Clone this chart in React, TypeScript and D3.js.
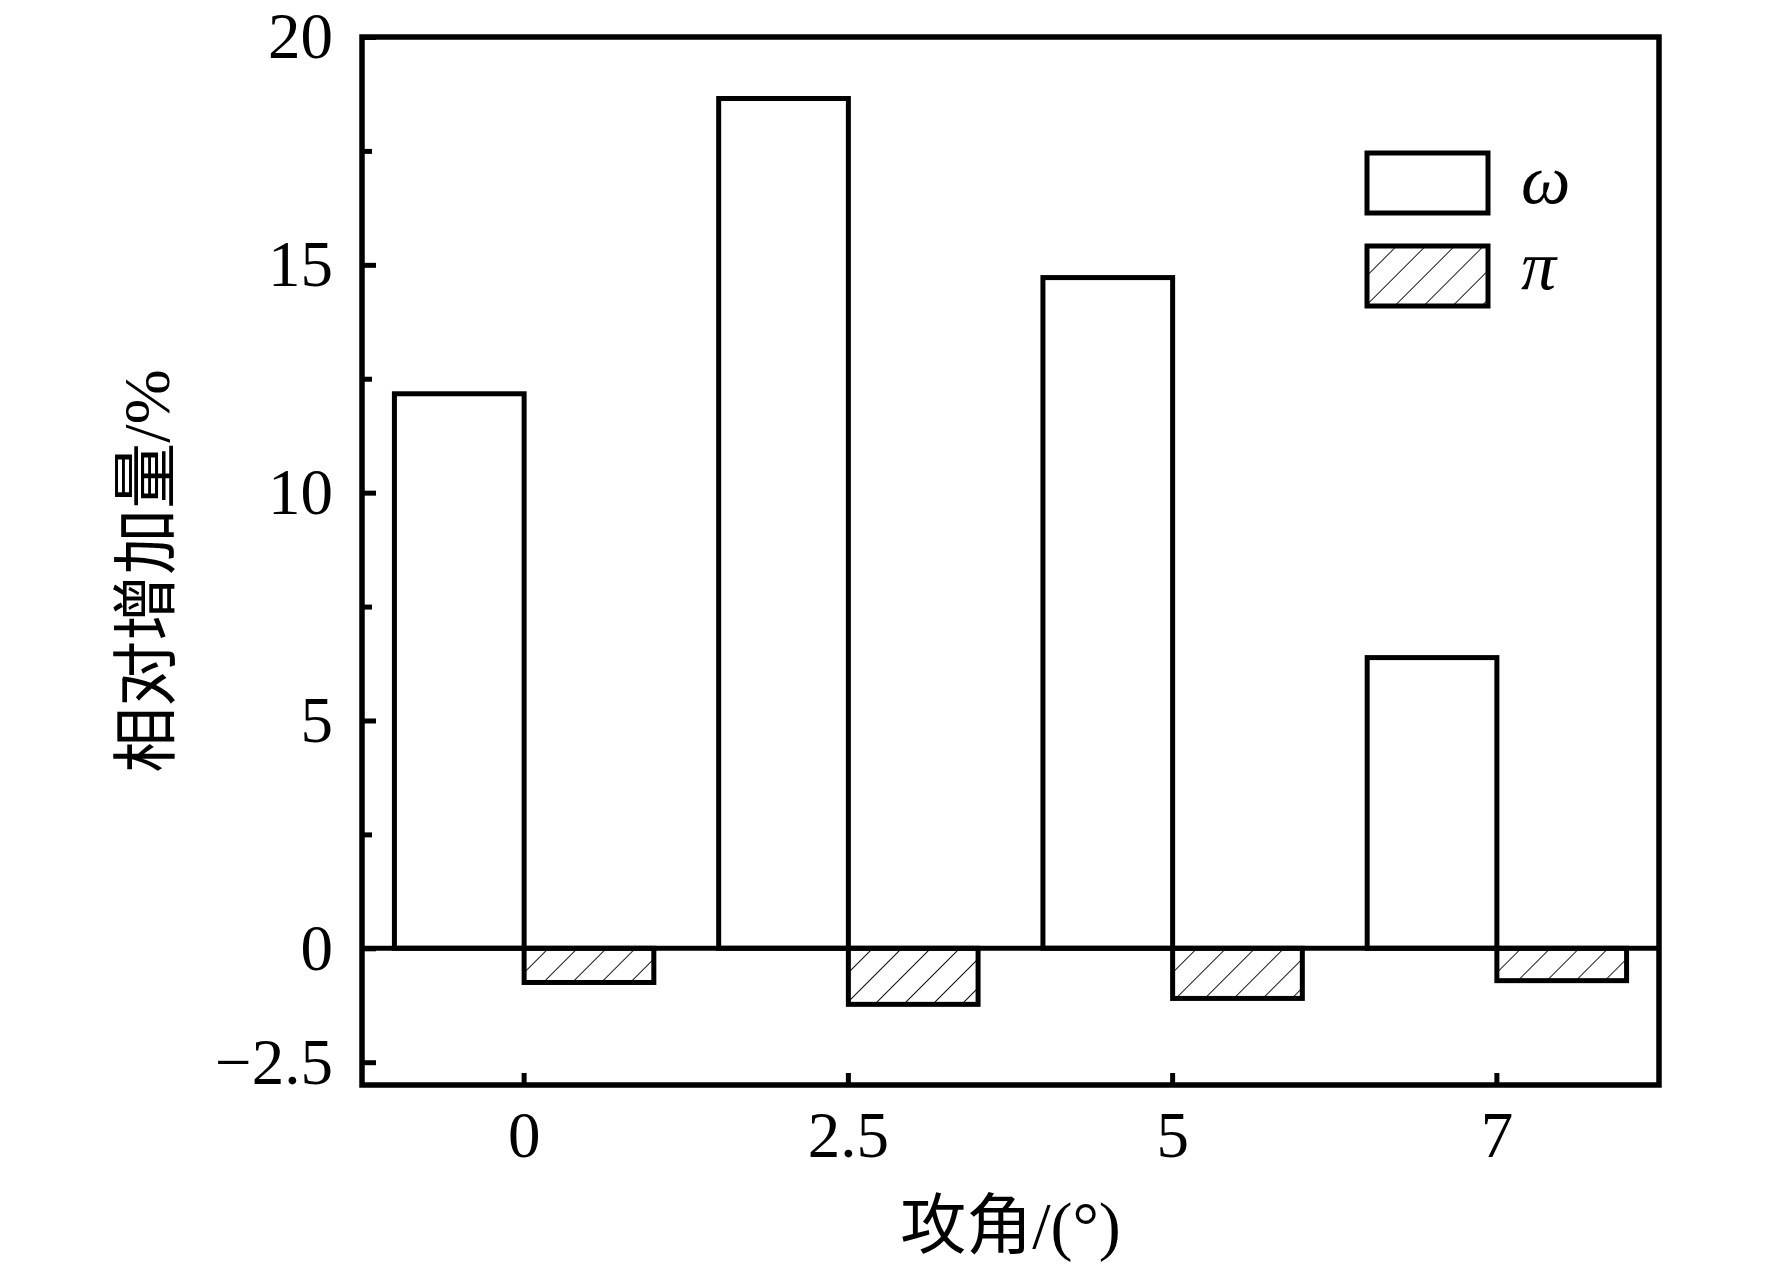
import * as d3 from 'd3';
import { useEffect, useRef } from 'react';

// attack angles (x categories)
const angles = ['0', '2.5', '5', '7'];
// relative increase, %
const omegaValues = [12.17, 18.65, 14.72, 6.38];
const piValues = [-0.75, -1.23, -1.1, -0.71];
const seriesKeys = ['omega', 'pi'];
const seriesLabels = ['ω', 'π'];
const yMajorTicks = [-2.5, 0, 5, 10, 15, 20];
const yMinorTicks = [2.5, 7.5, 12.5, 17.5];

const SERIF = "'Liberation Serif', 'Times New Roman', serif";
const CJK = "'Liberation Serif', 'Noto Sans CJK SC', serif";

export default function App() {
  const ref = useRef<SVGSVGElement | null>(null);

  useEffect(() => {
    const svg = d3.select(ref.current);
    const width = 1772;
    const height = 1266;
    const left = 362, right = 1659, top = 37, bottom = 1085;

    svg.selectAll('*').remove();
    svg.attr('width', width).attr('height', height);

    svg.append('rect').attr('width', width).attr('height', height).attr('fill', '#fff');

    const defs = svg.append('defs');
    const pat = defs.append('pattern')
      .attr('id', 'hatch')
      .attr('patternUnits', 'userSpaceOnUse')
      .attr('width', 20.5)
      .attr('height', 20.5)
      .attr('patternTransform', 'rotate(45)');
    pat.append('rect').attr('width', 20.5).attr('height', 20.5).attr('fill', '#fff');
    pat.append('line')
      .attr('x1', 0).attr('y1', 0).attr('x2', 0).attr('y2', 20.5)
      .attr('stroke', '#000').attr('stroke-width', 1.8);

    const x0 = d3.scaleBand()
      .domain(angles)
      .range([left, right])
      .paddingInner(0.2)
      .paddingOuter(0.1);

    const x1 = d3.scaleBand()
      .domain(seriesKeys)
      .range([0, x0.bandwidth()]);

    const y = d3.scaleLinear().domain([-3, 20]).range([bottom, top]);

    const rows = angles.map((a, i) => ({ angle: a, omega: omegaValues[i], pi: piValues[i] }));

    const g = svg.append('g');
    g.selectAll('g.grp')
      .data(rows)
      .join('g')
      .attr('class', 'grp')
      .attr('transform', d => `translate(${x0(d.angle)},0)`)
      .selectAll('rect')
      .data(d => seriesKeys.map(k => ({ key: k, value: (d as any)[k] as number })))
      .join('rect')
      .attr('x', d => x1(d.key)!)
      .attr('width', x1.bandwidth())
      .attr('y', d => y(Math.max(0, d.value)))
      .attr('height', d => Math.abs(y(d.value) - y(0)))
      .attr('fill', d => (d.key === 'pi' ? 'url(#hatch)' : '#fff'))
      .attr('stroke', '#000')
      .attr('stroke-width', 5);

    // zero line
    svg.append('line')
      .attr('x1', left).attr('x2', right)
      .attr('y1', y(0)).attr('y2', y(0))
      .attr('stroke', '#000').attr('stroke-width', 5);

    // y axis
    const fmt = (d: number) => (d < 0 ? '\u2212' + Math.abs(d) : String(d));
    const yAxis = svg.append('g')
      .attr('transform', `translate(${left},0)`)
      .call(d3.axisLeft(y).tickValues(yMajorTicks).tickSize(-14).tickPadding(29).tickFormat(d => fmt(+d)));
    yAxis.select('.domain').remove();
    yAxis.selectAll('line').attr('stroke-width', 5);
    yAxis.selectAll('text').attr('font-size', 65).attr('font-family', SERIF).attr('fill', '#000');

    const yMinor = svg.append('g')
      .attr('transform', `translate(${left},0)`)
      .call(d3.axisLeft(y).tickValues(yMinorTicks).tickSize(-10).tickFormat(() => ''));
    yMinor.select('.domain').remove();
    yMinor.selectAll('line').attr('stroke-width', 5);

    // x axis
    const xAxis = svg.append('g')
      .attr('transform', `translate(0,${bottom})`)
      .call(d3.axisBottom(x0.copy().range([left, right])).tickSize(-12).tickPadding(26));
    xAxis.select('.domain').remove();
    xAxis.selectAll('line').attr('stroke-width', 5);
    xAxis.selectAll('text').attr('font-size', 65).attr('font-family', SERIF).attr('fill', '#000');

    // frame
    svg.append('rect')
      .attr('x', left).attr('y', top)
      .attr('width', right - left).attr('height', bottom - top)
      .attr('fill', 'none').attr('stroke', '#000').attr('stroke-width', 5.5);

    // axis titles
    svg.append('text')
      .attr('transform', `translate(169,${(top + bottom) / 2 + 10}) rotate(-90)`)
      .attr('text-anchor', 'middle')
      .attr('font-size', 66)
      .attr('font-family', CJK)
      .text('相对增加量/%');

    svg.append('text')
      .attr('x', (left + right) / 2)
      .attr('y', 1248)
      .attr('text-anchor', 'middle')
      .attr('font-size', 66)
      .attr('font-family', CJK)
      .text('攻角/(°)');

    // legend
    const legend = svg.append('g').attr('transform', 'translate(1367,153)');
    const item = legend.selectAll('g')
      .data(seriesKeys)
      .join('g')
      .attr('transform', (_, i) => `translate(0,${i * 93})`);
    item.append('rect')
      .attr('width', 121).attr('height', 60)
      .attr('fill', d => (d === 'pi' ? 'url(#hatch)' : '#fff'))
      .attr('stroke', '#000').attr('stroke-width', 5);
    item.append('text')
      .attr('x', 154)
      .attr('y', (_, i) => (i === 0 ? 50 : 43))
      .attr('font-size', 70)
      .attr('font-style', 'italic')
      .attr('font-family', SERIF)
      .text((_, i) => seriesLabels[i]);
  }, []);

  return <svg ref={ref} style={{ position: 'absolute', left: 0, top: 0, display: 'block' }}></svg>;
}
